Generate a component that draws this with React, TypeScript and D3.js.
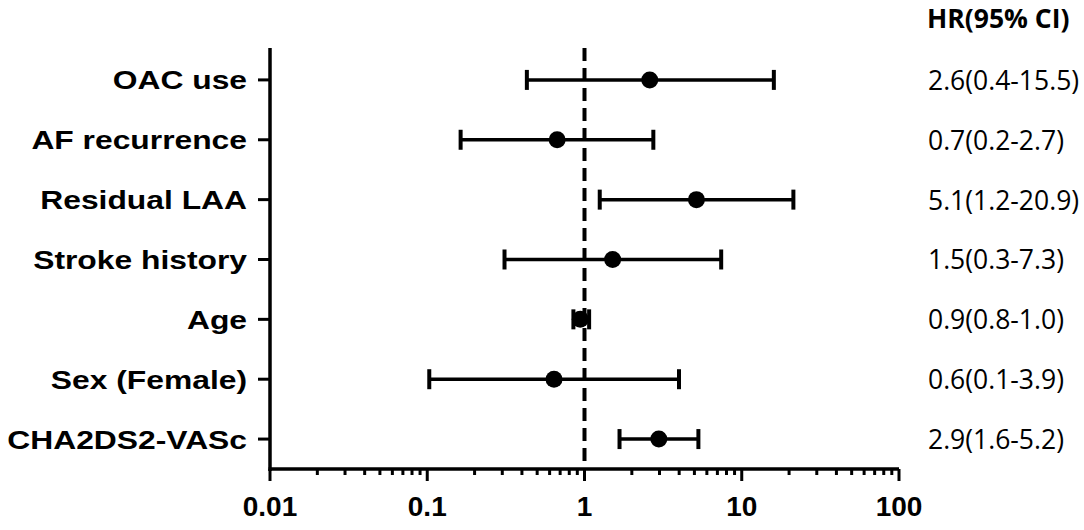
import React from 'react';
import * as d3 from 'd3';

// forest plot values
const labels = ['OAC use', 'AF recurrence', 'Residual LAA', 'Stroke history', 'Age', 'Sex (Female)', 'CHA2DS2-VASc'];
const hr = [2.6, 0.67, 5.15, 1.51, 0.94, 0.64, 2.97];
const lower = [0.43, 0.163, 1.25, 0.31, 0.85, 0.103, 1.67];
const upper = [16.0, 2.74, 21.3, 7.4, 1.07, 3.99, 5.3];
const ciText = ['2.6(0.4-15.5)', '0.7(0.2-2.7)', '5.1(1.2-20.9)', '1.5(0.3-7.3)', '0.9(0.8-1.0)', '0.6(0.1-3.9)', '2.9(1.6-5.2)'];
const xTicks = [0.01, 0.1, 1, 10, 100];
const xTickLabels = ['0.01', '0.1', '1', '10', '100'];

const W = 1084, H = 530;
const left = 270, right = 899, top = 48, bottom = 469;

export default function App() {
  const x = d3.scaleLog().domain([0.01, 100]).range([left, right]);
  const y = d3.scaleLinear().domain([-0.533, 6.5]).range([top, bottom]);

  // minor ticks 2..9 in each decade
  const minor: number[] = [];
  for (let e = -2; e < 2; e++) {
    for (let m = 2; m <= 9; m++) minor.push(m * Math.pow(10, e));
  }

  const stroke = '#000';
  const capH = 10;

  return (
    <svg width={W} height={H} style={{ position: 'absolute', left: 0, top: 0, background: '#fff' }}>
      {/* axes */}
      <line x1={left} x2={left} y1={top} y2={bottom + 2} stroke={stroke} strokeWidth={3.5} />
      <line x1={left - 1.5} x2={right} y1={bottom} y2={bottom} stroke={stroke} strokeWidth={3.5} />

      {xTicks.map((t, i) => (
        <g key={'xt' + i}>
          <line x1={x(t)} x2={x(t)} y1={bottom} y2={bottom + 12} stroke={stroke} strokeWidth={3} />
          <text x={x(t)} y={516} textAnchor="middle" fontFamily="'Liberation Sans', Arial, sans-serif"
            fontWeight="bold" fontSize={28}>{xTickLabels[i]}</text>
        </g>
      ))}
      {minor.map((t, i) => (
        <line key={'mt' + i} x1={x(t)} x2={x(t)} y1={bottom} y2={bottom + 6} stroke={stroke} strokeWidth={3} />
      ))}

      {/* category ticks and labels */}
      {labels.map((l, i) => (
        <g key={'yl' + i}>
          <line x1={left - 12} x2={left} y1={y(i)} y2={y(i)} stroke={stroke} strokeWidth={3} />
          <text transform={`translate(${left - 23},${y(i) + 9.5}) scale(1.2,1)`} textAnchor="end"
            fontFamily="'Liberation Sans', Arial, sans-serif" fontWeight="bold" fontSize={26.5}>{l}</text>
        </g>
      ))}

      {/* reference line at HR = 1 */}
      <line x1={x(1)} x2={x(1)} y1={top} y2={bottom} stroke={stroke} strokeWidth={4} strokeDasharray="13,7" />

      {/* error bars and points */}
      {labels.map((l, i) => (
        <g key={'eb' + i}>
          <line x1={x(lower[i])} x2={x(upper[i])} y1={y(i)} y2={y(i)} stroke={stroke} strokeWidth={3.5} />
          <line x1={x(lower[i])} x2={x(lower[i])} y1={y(i) - capH} y2={y(i) + capH} stroke={stroke} strokeWidth={4} />
          <line x1={x(upper[i])} x2={x(upper[i])} y1={y(i) - capH} y2={y(i) + capH} stroke={stroke} strokeWidth={4} />
          <circle cx={x(hr[i])} cy={y(i)} r={8.5} fill={stroke} />
        </g>
      ))}

      {/* HR column */}
      <text x={927} y={28} fontFamily="'Open Sans', sans-serif" fontWeight="bold" fontSize={26.5}>HR(95% CI)</text>
      {ciText.map((t, i) => (
        <text key={'ci' + i} x={928} y={y(i) + 10} fontFamily="'Open Sans', sans-serif" fontSize={26.5}>{t}</text>
      ))}
    </svg>
  );
}
